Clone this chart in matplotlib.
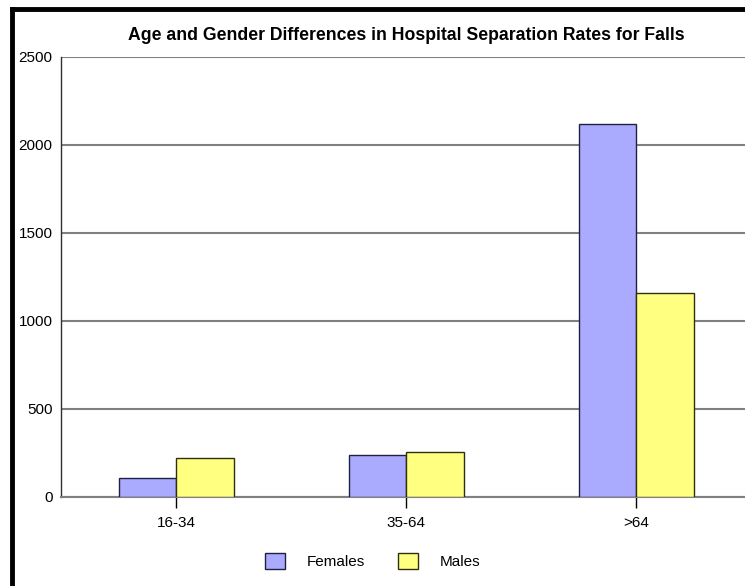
import numpy as np
import matplotlib.pyplot as plt
from matplotlib.lines import Line2D

plt.rcParams['font.family'] = ['Liberation Sans', 'DejaVu Sans']

# data
age_groups = ['16-34', '35-64', '>64']
females = [106, 239, 2118]
males = [220, 254, 1157]
y_ticks = [0, 500, 1000, 1500, 2000, 2500]

fig = plt.figure(figsize=(7.45, 5.86), dpi=100)
ax = fig.add_axes([61 / 745, 1 - 497 / 586, 690 / 745, 440 / 586])

x = np.arange(len(age_groups))
w = 0.25
ax.bar(x - w / 2, females, w, color='#aaaaff', edgecolor='#202040', linewidth=1, label='Females', zorder=3)
ax.bar(x + w / 2, males, w, color='#ffff80', edgecolor='#303010', linewidth=1, label='Males', zorder=3)

ax.set_xlim(-0.5, 2.5)
ax.set_ylim(0, 2500)
ax.set_yticks(y_ticks)
ax.set_xticks(x)
ax.set_xticklabels(age_groups)
ax.yaxis.grid(True, color='#808080', linewidth=1.5)
ax.set_axisbelow(True)
ax.tick_params(axis='y', length=0, pad=6, labelsize=11)
ax.tick_params(axis='x', length=8, width=1, color='black', pad=6, labelsize=11)

for s in ['top', 'right']:
    ax.spines[s].set_visible(False)
ax.spines['left'].set_color('#303030')
ax.spines['left'].set_linewidth(1)
ax.spines['bottom'].set_color('#808080')
ax.spines['bottom'].set_linewidth(1.5)

ax.set_title('Age and Gender Differences in Hospital Separation Rates for Falls',
             fontsize=12.7, fontweight='bold', pad=12)

fig.legend(loc='center', bbox_to_anchor=(0.5, 1 - 561 / 586), ncol=2, frameon=False,
           handlelength=1.3, handleheight=1.3, handletextpad=1.4, columnspacing=2.2,
           fontsize=11)

# outer frame (cut off at right and bottom)
fig.add_artist(Line2D([11.5 / 745, 11.5 / 745], [0, 1 - 8.5 / 586], color='black', linewidth=3.5,
                      transform=fig.transFigure, solid_capstyle='projecting'))
fig.add_artist(Line2D([11.5 / 745, 1], [1 - 8.5 / 586, 1 - 8.5 / 586], color='black', linewidth=3.5,
                      transform=fig.transFigure, solid_capstyle='projecting'))

fig.savefig('out.png', dpi=100)
